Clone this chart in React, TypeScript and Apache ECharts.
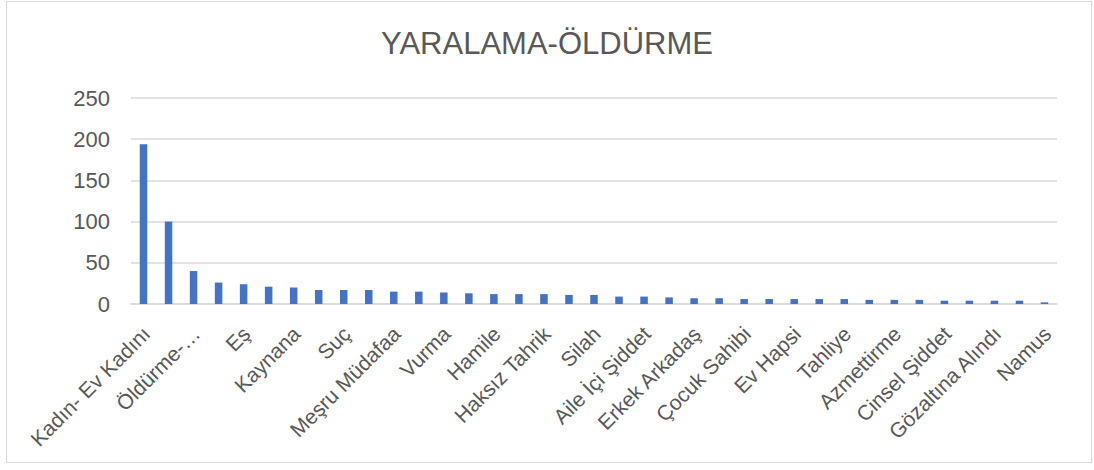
import React, { useEffect, useRef } from "react";
import * as echarts from "echarts";

const titleText = "YARALAMA-ÖLDÜRME";

const categories = [
  "Kadın- Ev Kadını", "Yaralama", "Öldürme-…", "Koca", "Eş", "Bıçak", "Kaynana", "Ölüm",
  "Suç", "Cezaevi", "Meşru Müdafaa", "Kıskançlık", "Vurma", "Boşanma", "Hamile", "Tutuklama",
  "Haksız Tahrik", "Tehdit", "Silah", "Ateşli Silah", "Aile İçi Şiddet", "İndirim", "Erkek Arkadaş", "Sevgili",
  "Çocuk Sahibi", "Çocuk", "Ev Hapsi", "Dava", "Tahliye", "Müebbet", "Azmettirme", "Tahrik",
  "Cinsel Şiddet", "Darp", "Gözaltına Alındı", "Israr", "Namus",
];

const values = [
  194, 100, 40, 26, 24, 21, 20, 17,
  17, 17, 15, 15, 14, 13, 12, 12,
  12, 11, 11, 9, 9, 8, 7, 7,
  6, 6, 6, 6, 6, 5, 5, 5,
  4, 4, 4, 4, 2,
];

const yTicks = { min: 0, max: 250, interval: 50 };

export default function App() {
  const ref = useRef<HTMLDivElement>(null);
  useEffect(() => {
    if (!ref.current) return;
    const chart = echarts.init(ref.current, undefined, { renderer: "svg" });
    const font = "'Liberation Sans', Arial, sans-serif";
    chart.setOption({
      animation: false,
      backgroundColor: "#ffffff",
      title: {
        text: titleText,
        left: "center",
        top: 23,
        textStyle: { fontFamily: font, fontSize: 31, fontWeight: "normal", color: "#595959" },
      },
      graphic: [
        {
          type: "rect",
          shape: { x: 6.5, y: 1.5, width: 1085, height: 461 },
          style: { fill: "none", stroke: "#d9d9d9", lineWidth: 1 },
          silent: true,
        },
      ],
      grid: { left: 131, right: 37, top: 98, bottom: 166, containLabel: false },
      xAxis: {
        type: "category",
        data: categories,
        axisTick: { show: false },
        axisLine: { lineStyle: { color: "#d9d9d9", width: 1.5 } },
        axisLabel: {
          interval: 1,
          rotate: 45,
          margin: 29,
          padding: [0, -4, 0, 0],
          fontFamily: font,
          fontSize: 21,
          color: "#595959",
        },
      },
      yAxis: {
        type: "value",
        min: yTicks.min,
        max: yTicks.max,
        interval: yTicks.interval,
        axisLine: { show: false },
        axisTick: { show: false },
        splitLine: { lineStyle: { color: "#d9d9d9", width: 1.5 } },
        axisLabel: { fontFamily: font, fontSize: 22, color: "#595959", margin: 21 },
      },
      series: [
        {
          type: "bar",
          data: values,
          barWidth: "30%",
          itemStyle: { color: "#4472C4" },
        },
      ],
    });
    return () => chart.dispose();
  }, []);
  return (
    <div
      ref={ref}
      style={{ position: "absolute", left: 0, top: 0, width: 1094, height: 470 }}
    />
  );
}
